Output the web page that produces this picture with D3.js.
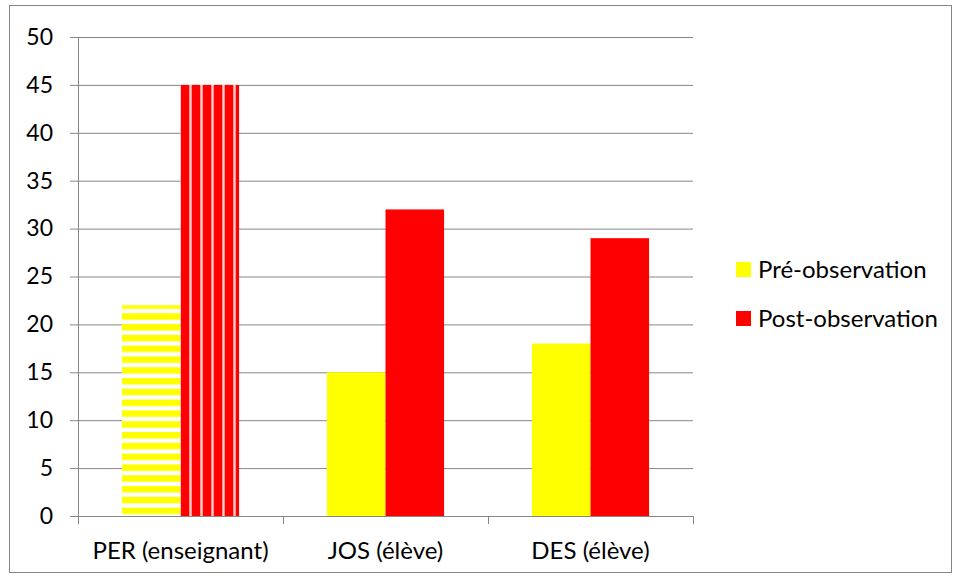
<!DOCTYPE html>
<html>
<head>
<meta charset="utf-8">
<script src="https://cdn.jsdelivr.net/npm/d3@7"></script>
<style>
  body { margin: 0; background: #fff; }
  svg text { font-family: Lato, "Open Sans", sans-serif; fill: #000; }
</style>
</head>
<body>
<svg id="chart" width="956" height="579"></svg>
<script>
// data
const categories = ["PER (enseignant)", "JOS (élève)", "DES (élève)"]
const series = ["Pré-observation", "Post-observation"]
const preValues = [22, 15, 18]
const postValues = [45, 32, 29]
const yTicks = [0, 5, 10, 15, 20, 25, 30, 35, 40, 45, 50]

const colors = {"Pré-observation": "#ffff00", "Post-observation": "#ff0000"}
const margin = {top: 37, left: 78, right: 263, bottom: 63}
const [width, height] = [956, 579]
const svg = d3.select("#chart")

const rows = categories.map((c, i) => ({cat: c, vals: [
    {key: series[0], value: preValues[i], idx: i},
    {key: series[1], value: postValues[i], idx: i}
]}))

// outer frame
svg.append("rect")
    .attr("x", 9.5).attr("y", 5.5)
    .attr("width", 942).attr("height", 567)
    .attr("fill", "none").attr("stroke", "#868686")

// patterns for the first group
const defs = svg.append("defs")
const hp = defs.append("pattern").attr("id", "hstripe")
    .attr("patternUnits", "userSpaceOnUse").attr("width", 10).attr("height", 10.8)
hp.append("rect").attr("width", 10).attr("height", 10.8).attr("fill", "#fff")
hp.append("rect").attr("y", 0).attr("width", 10).attr("height", 6.5).attr("fill", "#ffff00")
const vp = defs.append("pattern").attr("id", "vstripe")
    .attr("patternUnits", "userSpaceOnUse").attr("width", 11).attr("height", 10)
    .attr("x", 180)
vp.append("rect").attr("width", 11).attr("height", 10).attr("fill", "#ff0000")
vp.append("rect").attr("x", 8.3).attr("width", 2.4).attr("height", 10).attr("fill", "#ffd0d0")

const x0 = d3.scaleBand()
    .domain(categories)
    .range([margin.left, width - margin.right])
const x1 = d3.scaleBand()
    .domain(series)
    .range([0, x0.bandwidth()])
    .paddingOuter(0.75)
const y = d3.scaleLinear()
    .domain([0, 50])
    .range([height - margin.bottom, margin.top])

// grid
svg.append("g")
    .attr("transform", `translate(${margin.left}, 0)`)
    .call(d3.axisLeft(y).tickValues(yTicks).tickSize(8).tickFormat(d3.format("d")))
    .call(g => g.selectAll(".tick line").clone()
        .attr("x2", width - margin.right - margin.left))
    .call(g => g.selectAll("line, path").attr("stroke", "#868686"))
    .call(g => g.select(".domain").attr("d", `M0.5,${y(50)}V${y(0)}`))
    .call(g => g.selectAll(".tick text").attr("x", -25).style("font-size", "23px"))

// bars
svg.append("g")
    .selectAll("g")
    .data(rows)
    .join("g")
        .attr("transform", d => `translate(${x0(d.cat)}, 0)`)
    .selectAll("rect")
    .data(d => d.vals)
    .join("rect")
        .attr("x", d => x1(d.key))
        .attr("y", d => y(d.value))
        .attr("width", x1.bandwidth())
        .attr("height", d => y(0) - y(d.value))
        .attr("fill", d => d.idx === 0
            ? (d.key === series[0] ? "url(#hstripe)" : "url(#vstripe)")
            : colors[d.key])

// x axis
svg.append("g")
    .attr("transform", `translate(0, ${y(0)})`)
    .call(d3.axisBottom(x0).tickSize(0))
    .call(g => g.select(".domain").attr("stroke", "#868686")
        .attr("d", `M${margin.left},0.5H${width - margin.right}`))
    .call(g => g.selectAll(".tick text").attr("y", 43).attr("dy", null)
        .style("font-size", "24px"))
    .call(g => g.selectAll(".sep")
        .data([0, 1, 2, 3])
        .join("line")
        .attr("class", "sep")
        .attr("x1", i => Math.round(margin.left + i * x0.step()) + 0.5)
        .attr("x2", i => Math.round(margin.left + i * x0.step()) + 0.5)
        .attr("y1", 0).attr("y2", 8)
        .attr("stroke", "#868686"))

// legend
const legend = svg.append("g")
    .selectAll("g")
    .data(series)
    .join("g")
        .attr("transform", (d, i) => `translate(736, ${262 + i * 49})`)
legend.append("rect")
    .attr("width", 15).attr("height", 15)
    .attr("fill", d => colors[d])
legend.append("text")
    .attr("x", 22).attr("y", 8).attr("dy", "0.35em")
    .style("font-size", "24px")
    .text(d => d)
</script>
</body>
</html>
